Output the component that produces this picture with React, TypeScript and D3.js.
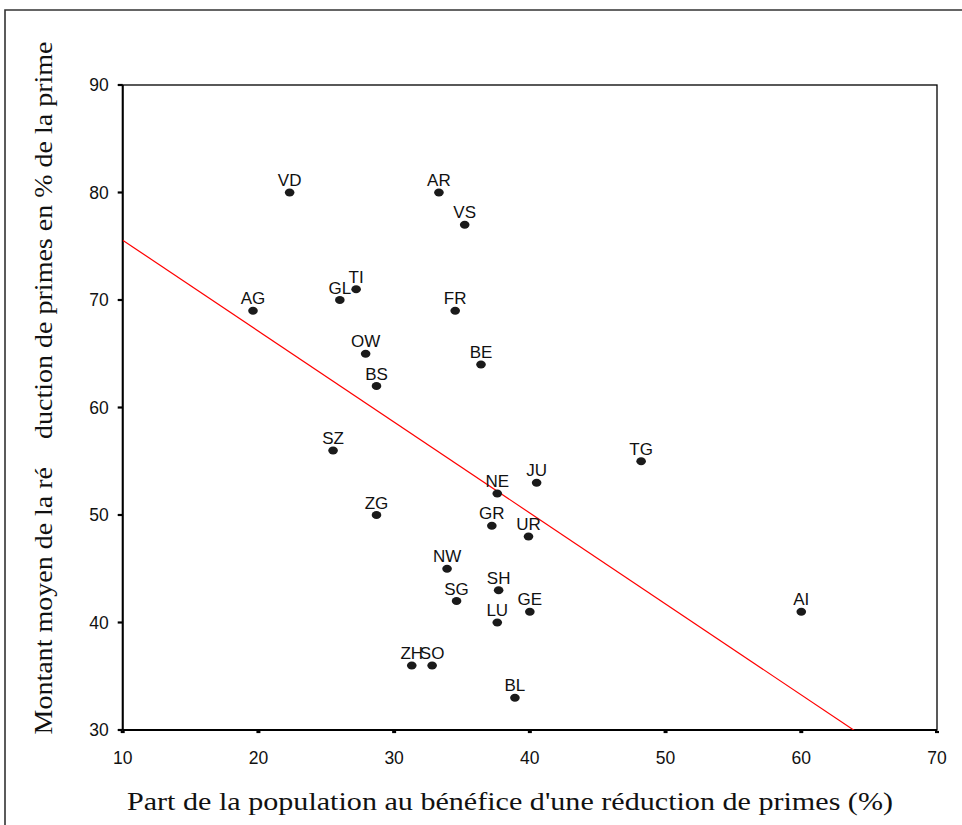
import React from "react";
import * as d3 from "d3";

// Canton codes and their values
const cantons = ["VD", "AR", "VS", "GL", "TI", "AG", "FR", "OW", "BE", "BS", "SZ", "TG", "JU", "NE", "ZG", "GR", "UR", "NW", "SH", "SG", "LU", "GE", "AI", "ZH", "SO", "BL"];
// Share of the population receiving a premium reduction (%)
const shareBeneficiaries = [22.3, 33.3, 35.2, 26.0, 27.2, 19.6, 34.5, 27.9, 36.4, 28.7, 25.5, 48.2, 40.5, 37.6, 28.7, 37.2, 39.9, 33.9, 37.7, 34.6, 37.6, 40.0, 60.0, 31.3, 32.8, 38.9];
// Average reduction amount in % of the premium
const meanReduction = [80, 80, 77, 70, 71, 69, 69, 65, 64, 62, 56, 55, 53, 52, 50, 49, 48, 45, 43, 42, 40, 41, 41, 36, 36, 33];

const xTicks = [10, 20, 30, 40, 50, 60, 70];
const yTicks = [30, 40, 50, 60, 70, 80, 90];

const W = 962;
const H = 825;
const plot = { left: 122.7, right: 937, top: 85, bottom: 730 };

// Least-squares fit line
function linearFit(xs: number[], ys: number[]) {
  const mx = d3.mean(xs)!;
  const my = d3.mean(ys)!;
  let sxy = 0;
  let sxx = 0;
  xs.forEach((x, i) => {
    sxy += (x - mx) * (ys[i] - my);
    sxx += (x - mx) * (x - mx);
  });
  const slope = sxy / sxx;
  return { slope, intercept: my - slope * mx };
}

export default function App() {
  const x = d3.scaleLinear().domain([10, 70]).range([plot.left, plot.right]);
  const y = d3.scaleLinear().domain([30, 90]).range([plot.bottom, plot.top]);
  const fit = linearFit(shareBeneficiaries, meanReduction);
  const fitLine = d3
    .line<number>()
    .x((d) => x(d))
    .y((d) => y(fit.intercept + fit.slope * d));

  const sans = "'Liberation Sans', Arial, sans-serif";
  const serif = "'Liberation Serif', 'Times New Roman', serif";

  return (
    <svg
      width={W}
      height={H}
      style={{ position: "absolute", left: 0, top: 0, background: "#fff" }}
    >
      <defs>
        <clipPath id="plot-clip">
          <rect x={plot.left} y={plot.top} width={plot.right - plot.left} height={plot.bottom - plot.top} />
        </clipPath>
      </defs>
      {/* outer frame */}
      <path d={`M5,${H + 2} L5,10 L${W + 2},10`} fill="none" stroke="#333" strokeWidth={1.6} />

      {/* plot box */}
      <rect
        x={plot.left}
        y={plot.top}
        width={plot.right - plot.left}
        height={plot.bottom - plot.top}
        fill="none"
        stroke="#000"
        strokeWidth={1.3}
      />
      <line x1={plot.left} x2={plot.left} y1={plot.top} y2={plot.bottom} stroke="#000" strokeWidth={2} />
      <line x1={plot.left} x2={plot.right} y1={plot.bottom} y2={plot.bottom} stroke="#000" strokeWidth={2} />

      {/* y ticks */}
      {yTicks.map((t) => (
        <g key={`y${t}`}>
          <line x1={plot.left - 5} x2={plot.left} y1={y(t)} y2={y(t)} stroke="#000" strokeWidth={2.2} />
          <text x={plot.left - 14} y={y(t)} dy="0.36em" textAnchor="end" fontFamily={sans} fontSize={17.5} fill="#111">
            {t}
          </text>
        </g>
      ))}

      {/* x ticks */}
      {xTicks.map((t) => (
        <g key={`x${t}`}>
          <line x1={x(t) - 2} x2={x(t) + 2} y1={plot.bottom + 2} y2={plot.bottom + 2} stroke="#000" strokeWidth={2.2} />
          <text x={x(t)} y={plot.bottom + 34} textAnchor="middle" fontFamily={sans} fontSize={17.5} fill="#111">
            {t}
          </text>
        </g>
      ))}

      {/* fit line */}
      <path d={fitLine([10, 70]) ?? ""} fill="none" stroke="#ff0000" strokeWidth={1.2} clipPath="url(#plot-clip)" />

      {/* points and labels */}
      {cantons.map((c, i) => {
        const px = x(shareBeneficiaries[i]);
        const py = y(meanReduction[i]);
        return (
          <g key={c}>
            <ellipse cx={px} cy={py} rx={4.8} ry={4} fill="#1a1a1a" />
            <text x={px} y={py - 6.5} textAnchor="middle" fontFamily={sans} fontSize={17} fill="#111">
              {c}
            </text>
          </g>
        );
      })}

      {/* axis titles */}
      <text
        x={510}
        y={810}
        textAnchor="middle"
        fontFamily={serif}
        fontSize={26}
        textLength={766}
        lengthAdjust="spacingAndGlyphs"
        fill="#111"
      >
        Part de la population au bénéfice d'une réduction de primes (%)
      </text>
      <text
        transform={`translate(52,${388}) rotate(-90)`}
        textAnchor="middle"
        fontFamily={serif}
        fontSize={26}
        textLength={693}
        lengthAdjust="spacingAndGlyphs"
        fill="#111"
        style={{ whiteSpace: "pre" }}
      >
        {"Montant moyen de la ré    duction de primes en % de la prime"}
      </text>
    </svg>
  );
}
